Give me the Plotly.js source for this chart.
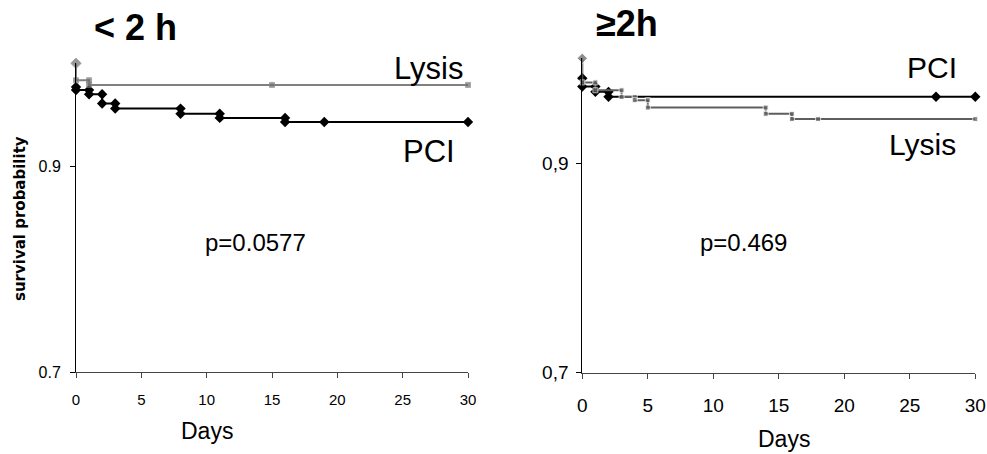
<!DOCTYPE html>
<html>
<head>
<meta charset="utf-8">
<script src="https://cdn.plot.ly/plotly-3.0.1.min.js"></script>
<style>html,body{margin:0;padding:0;background:#fff;}#chart{width:987px;height:454px;}</style>
</head>
<body>
<div id="chart"></div>
<script>
// ---- data ----
// Left panel: < 2 h
const leftPciDays   = [0, 0, 1, 1, 2, 2, 3, 3, 8, 8, 11, 11, 16, 16, 19, 30];
const leftPciSurv   = [0.977, 0.974, 0.974, 0.970, 0.970, 0.961, 0.961, 0.956, 0.956, 0.951, 0.951, 0.947, 0.947, 0.943, 0.943, 0.943];
const leftLysisDays = [0, 0, 1, 1, 15, 30];
const leftLysisSurv = [1.0, 0.9835, 0.9835, 0.979, 0.979, 0.979];
// Right panel: >= 2 h
const rightPciDays   = [0, 0, 1, 1, 2, 2, 27, 30];
const rightPciSurv   = [0.981, 0.973, 0.973, 0.968, 0.968, 0.9633, 0.9633, 0.9633];
const rightLysisDays = [0, 0, 1, 1, 3, 3, 4, 4, 5, 5, 14, 14, 16, 16, 18, 30];
const rightLysisSurv = [1.0, 0.977, 0.977, 0.9695, 0.9695, 0.963, 0.963, 0.960, 0.960, 0.953, 0.953, 0.947, 0.947, 0.942, 0.942, 0.942];

const dayTicks = [0, 5, 10, 15, 20, 25, 30];
const survTicks = [0.7, 0.9];
const survTickTextLeft = ['0.7', '0.9'];
const survTickTextRight = ['0,7', '0,9'];

const titleLeft = '<b>&lt; 2 h</b>';
const titleRight = '<b>≥2h</b>';
const pLeft = 'p=0.0577';
const pRight = 'p=0.469';

// ---- styles ----
const W = 987, H = 454;
const px = v => v / W;
const py = v => 1 - v / H;
const FONT = 'Liberation Sans, Arial, sans-serif';
const NARROW = 'Liberation Sans Narrow, Arial Narrow, Liberation Sans, Arial, sans-serif';

const firstDiamond = arr => arr.map((_, i) => i === 0 ? 'diamond' : 'square');
const firstSize = arr => arr.map((_, i) => i === 0 ? 8 : 5);

const traces = [
  {x: leftPciDays, y: leftPciSurv, xaxis: 'x', yaxis: 'y', mode: 'lines+markers', cliponaxis: false,
   line: {color: '#000', width: 2}, marker: {symbol: 'diamond', size: 8, color: '#000'}},
  {x: leftLysisDays, y: leftLysisSurv, xaxis: 'x', yaxis: 'y', mode: 'lines+markers', cliponaxis: false,
   line: {color: '#808080', width: 2}, marker: {symbol: firstDiamond(leftLysisDays), size: firstSize(leftLysisDays), color: '#6e6e6e'}},
  {x: rightPciDays, y: rightPciSurv, xaxis: 'x2', yaxis: 'y2', mode: 'lines+markers', cliponaxis: false,
   line: {color: '#000', width: 2}, marker: {symbol: 'diamond', size: 8, color: '#000'}},
  {x: rightLysisDays, y: rightLysisSurv, xaxis: 'x2', yaxis: 'y2', mode: 'lines+markers', cliponaxis: false,
   line: {color: '#5e5e5e', width: 2}, marker: {symbol: firstDiamond(rightLysisDays), size: firstSize(rightLysisDays), color: '#5e5e5e'}}
];

const xBase = {range: [0, 30], tickvals: dayTicks, showline: true, linecolor: '#444', linewidth: 1,
  ticks: 'outside', ticklen: 5, tickcolor: '#444', showgrid: false, zeroline: false, fixedrange: true};
const yBase = {range: [0.7, 1.0], tickvals: survTicks, showline: true, linecolor: '#000', linewidth: 1,
  ticks: 'outside', ticklen: 5, tickcolor: '#000', showgrid: false, zeroline: false, fixedrange: true};

const layout = {
  width: W, height: H,
  margin: {l: 0, r: 0, t: 0, b: 0},
  paper_bgcolor: '#fff', plot_bgcolor: '#fff',
  showlegend: false,
  xaxis: Object.assign({}, xBase, {domain: [px(76), px(468)], anchor: 'y',
    tickfont: {family: FONT, size: 15, color: '#000'}, ticklabelstandoff: 9}),
  yaxis: Object.assign({}, yBase, {domain: [1 - 372.3 / H, 1 - 63.3 / H], anchor: 'x',
    ticktext: survTickTextLeft, tickfont: {family: FONT, size: 16, color: '#000'}, ticklabelstandoff: 6}),
  xaxis2: Object.assign({}, xBase, {domain: [px(582.3), px(975.3)], anchor: 'y2',
    tickfont: {family: NARROW, size: 19, color: '#000'}, ticklabelstandoff: 10}),
  yaxis2: Object.assign({}, yBase, {domain: [1 - 372.7 / H, 1 - 58.3 / H], anchor: 'x2',
    ticktext: survTickTextRight, tickfont: {family: NARROW, size: 19, color: '#000'}, ticklabelstandoff: 4}),
  annotations: [
    {text: titleLeft, x: px(135), y: py(27), font: {family: FONT, size: 36, color: '#000'}},
    {text: titleRight, x: px(627), y: py(24), font: {family: FONT, size: 36, color: '#000'}},
    {text: 'Lysis', x: px(428), y: py(68), font: {family: FONT, size: 31, color: '#000'}},
    {text: 'PCI', x: px(429), y: py(152), font: {family: FONT, size: 31, color: '#000'}},
    {text: 'PCI', x: px(932), y: py(67), font: {family: FONT, size: 30, color: '#000'}},
    {text: 'Lysis', x: px(922), y: py(145), font: {family: FONT, size: 30, color: '#000'}},
    {text: pLeft, x: px(255), y: py(242), font: {family: FONT, size: 24, color: '#000'}},
    {text: pRight, x: px(743), y: py(242), font: {family: FONT, size: 24, color: '#000'}},
    {text: 'Days', x: px(207), y: py(431), font: {family: FONT, size: 23, color: '#000'}},
    {text: 'Days', x: px(784), y: py(439), font: {family: FONT, size: 23, color: '#000'}},
    {text: '<b>survival probability</b>', x: px(20), y: py(219), textangle: -90,
     font: {family: 'DejaVu Sans, sans-serif', size: 15, color: '#000'}}
  ].map(a => Object.assign({xref: 'paper', yref: 'paper', showarrow: false, xanchor: 'center', yanchor: 'middle'}, a))
};

Plotly.newPlot('chart', traces, layout, {displayModeBar: false, staticPlot: true});
</script>
</body>
</html>
